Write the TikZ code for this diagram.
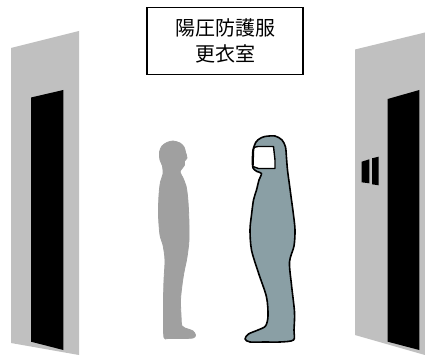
\documentclass[tikz,border=0pt]{standalone}
\usepackage{fontspec}
\newfontfamily\jpfont{Noto Sans CJK JP}
\definecolor{wallgray}{RGB}{192,192,192}
\definecolor{persongray}{RGB}{160,160,160}
\definecolor{suitblue}{RGB}{138,159,165}
\begin{document}
\begin{tikzpicture}[x=1pt,y=-1pt,
  wall/.style={fill=wallgray,draw=none},
  doorway/.style={fill=black,draw=none},
  sign/.style={draw=black,line width=1.4pt,fill=white,align=center,
    minimum width=156pt,minimum height=67pt,inner sep=0pt,
    font=\jpfont\fontsize{20}{26}\selectfont},
  silhouette/.style={fill=persongray,draw=persongray,line width=0.8pt},
  suit/.style={fill=suitblue,draw=black,line width=1.6pt,line join=round},
  visor/.style={fill=white,draw=black,line width=1.4pt,line join=round}]
\useasboundingbox (0,0) rectangle (425,355);
\fill[white] (0,0) rectangle (425,355);

% left wall with its doorway
\path[wall] (11,48) -- (79,31) -- (79,355) -- (11,343) -- cycle;
\path[doorway] (31,97.5) -- (63.3,90) -- (63.3,350) -- (31,341.7) -- cycle;

% right wall with its doorway and small window
\path[wall] (355,49.5) -- (425,32.5) -- (425,355) -- (355,335) -- cycle;
\path[doorway] (387.7,99) -- (419.3,90) -- (419.3,350) -- (387.7,341.7) -- cycle;
\path[doorway] (361.7,161.7) -- (369.3,159.3) -- (369.3,183.3) -- (361.7,182.3) -- cycle;
\path[doorway] (372,158.3) -- (378.7,156.7) -- (378.7,185.3) -- (372,184.3) -- cycle;

% sign above the passage
\node[sign] (label) at (225,41) {陽圧防護服\\更衣室};

% person in ordinary clothes
\path[silhouette] plot[smooth cycle,tension=0.5] coordinates {
  (173,141) (180,143) (184,147) (185.5,152) (187,158) (184.5,161)
  (184.5,165) (182,168.5) (180,172) (183,178) (186,186) (187.5,196)
  (188.5,210) (189,225) (189,240) (188,250) (186.5,260) (184,272)
  (182,285) (180.5,300) (181,315) (182,326) (188,329) (193,331)
  (195.5,335) (193,338) (180,338.5) (168,338.5) (164,337.5) (163.5,320)
  (163.5,300) (164,280) (165,260) (163,245) (160,235) (158.5,215)
  (159,195) (160.5,182) (163,174) (162.5,166) (160,160) (159.5,152)
  (162,146) (167,142.5)};

% person wearing the positive-pressure suit
\path[suit] plot[smooth cycle,tension=0.5] coordinates {
  (265,136.5) (275,136) (282,140) (285.5,147) (286.5,158) (287.5,170)
  (289.5,185) (291.5,200) (293.5,215) (295,230) (294,246) (289.5,262)
  (291.5,285) (294.5,312) (294,330) (293.5,340) (280,342) (265,342)
  (250,342) (245,339) (248.5,334) (258,330) (265.5,326) (268,316)
  (266.5,297) (258.5,273) (251.5,250) (250,230) (251.5,215) (253.5,200)
  (256.5,190) (259,180) (261.5,173.5) (257,171.5) (253,168) (252.5,160)
  (253,150) (256,142) (260,138.5)};
\path[visor] (253.5,151) .. controls (253.5,147) and (255,146.5) .. (258,146.5)
  -- (273.5,146.5) -- (275,160) -- (275,168.5) -- (258.5,168.5)
  -- (253,166.5) -- cycle;
\end{tikzpicture}
\end{document}
